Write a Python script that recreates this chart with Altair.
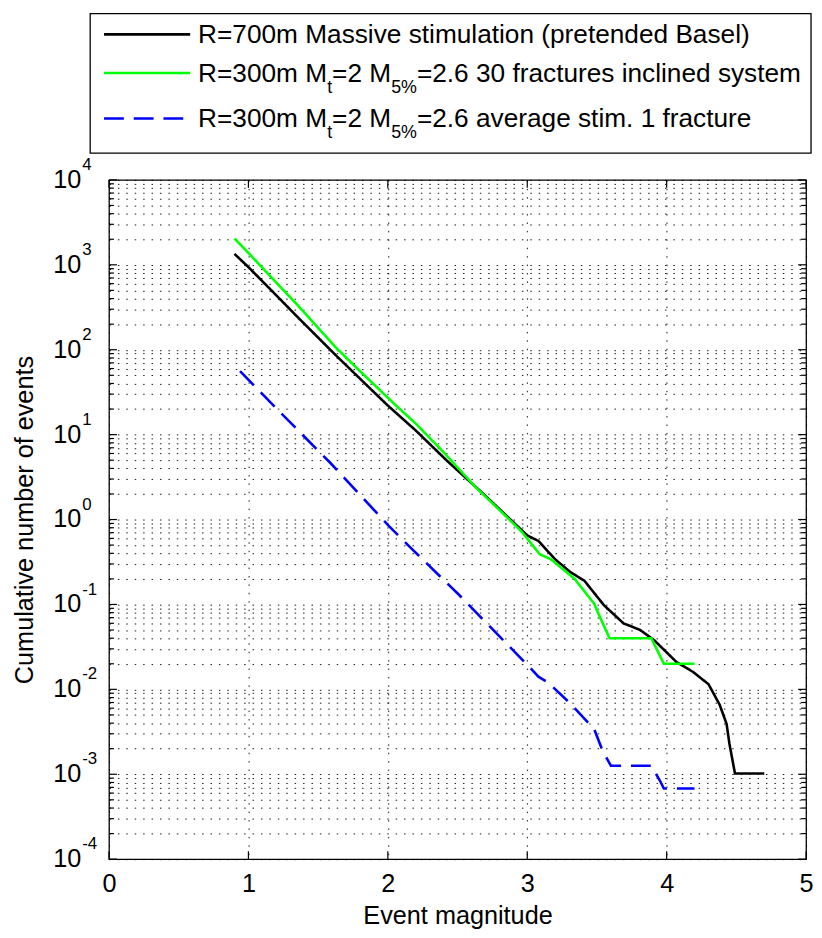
import altair as alt
import pandas as pd

# ---------------- data ----------------
series_names = ["massive", "inclined", "average"]
series_colors = ["#000000", "#00ff00", "#0000ff"]

black_m = [0.90, 1.00, 1.20, 1.35, 1.63, 2.00, 2.20, 2.42, 2.68, 3.00, 3.08, 3.20, 3.31,
           3.41, 3.55, 3.69, 3.81, 3.91, 4.07, 4.19, 4.30, 4.38, 4.43, 4.45, 4.49, 4.70]
black_n = [1345, 940, 437, 245, 85, 22, 11.2, 5.0, 2.04, 0.65, 0.56, 0.34, 0.24,
           0.19, 0.098, 0.060, 0.050, 0.038, 0.021, 0.016, 0.0115, 0.0066, 0.0039, 0.0023, 0.00102, 0.00102]

green_m = [0.90, 1.00, 1.20, 1.35, 1.63, 1.80, 2.06, 2.20, 2.40, 2.63, 2.80, 2.96, 3.09,
           3.17, 3.34, 3.48, 3.50, 3.59, 3.89, 3.98, 4.20]
green_n = [2040, 1380, 617, 339, 105, 56, 21.9, 13.5, 6.2, 2.4, 1.3, 0.72, 0.39,
           0.34, 0.20, 0.102, 0.085, 0.040, 0.040, 0.020, 0.020]

blue_m = [0.94, 1.20, 1.59, 2.01, 2.15, 2.51, 3.00, 3.08, 3.15, 3.31, 3.48, 3.54, 3.60,
          3.89, 3.95, 3.98, 4.20]
blue_n = [56, 20.4, 4.6, 0.83, 0.49, 0.13, 0.0195, 0.0141, 0.012, 0.0068, 0.0034, 0.0019, 0.00126,
          0.00126, 0.00085, 0.00068, 0.00068]

x_ticks = [0, 1, 2, 3, 4, 5]
y_exponents = [-4, -3, -2, -1, 0, 1, 2, 3, 4]
y_mantissas = [1, 2, 3, 4, 5, 6, 7, 8, 9]

x_title = "Event magnitude"
y_title = "Cumulative number of events"

# legend rows: list of (text, is_subscript)
legend_rows = [
    [("R=700m Massive stimulation (pretended Basel)", False)],
    [("R=300m M", False), ("t", True), ("=2 M", False), ("5%", True),
     ("=2.6 30 fractures inclined system", False)],
    [("R=300m M", False), ("t", True), ("=2 M", False), ("5%", True),
     ("=2.6 average stim. 1 fracture", False)],
]

# ---------------- layout / style ----------------
FONT = "Liberation Sans"
W, H = 704, 686
FS = 25.5
LEG_FS = 26.5
SUB_FS = 18

lines_df = pd.concat([
    pd.DataFrame({"series": "massive", "M": black_m, "N": black_n, "o": range(len(black_m))}),
    pd.DataFrame({"series": "inclined", "M": green_m, "N": green_n, "o": range(len(green_m))}),
    pd.DataFrame({"series": "average", "M": blue_m, "N": blue_n, "o": range(len(blue_m))}),
])

grid_vals = []
major_vals = []
minor_vals = []
for e in y_exponents:
    for m in y_mantissas:
        if e == 4 and m > 1:
            continue
        v = m * 10.0 ** e
        grid_vals.append(v)
        (major_vals if m == 1 else minor_vals).append(v)

x_scale = alt.Scale(domain=[0, 5], nice=False, zero=False)
y_scale = alt.Scale(type="log", domain=[1e-4, 1e4], nice=False)

x_axis = alt.Axis(values=x_ticks, grid=True, gridDash=[1.5, 7], gridColor="#000000",
                  gridOpacity=0.9, gridWidth=1, ticks=False, domain=False,
                  labelFontSize=FS, labelFont=FONT, labelColor="#000", labelPadding=13,
                  labelFlush=False,
                  title=x_title, titleFontSize=FS, titleFont=FONT, titleFontWeight="normal",
                  titleColor="#000", titlePadding=6)
y_axis = alt.Axis(values=grid_vals, grid=True, gridDash=[1.5, 7], gridColor="#000000",
                  gridOpacity=0.9, gridWidth=1, ticks=False, domain=False, labels=False,
                  title=y_title, titleFontSize=FS, titleFont=FONT, titleFontWeight="normal",
                  titleColor="#000", titlePadding=72)

lines = alt.Chart(lines_df).mark_line(strokeWidth=2.6, clip=True).encode(
    x=alt.X("M:Q", scale=x_scale, axis=x_axis),
    y=alt.Y("N:Q", scale=y_scale, axis=y_axis),
    color=alt.Color("series:N", scale=alt.Scale(domain=series_names, range=series_colors), legend=None),
    strokeDash=alt.StrokeDash("series:N",
                              scale=alt.Scale(domain=series_names, range=[[1, 0], [1, 0], [20, 10]]),
                              legend=None),
    order="o:Q",
)

def yrule(vals, x0, x1):
    return alt.Chart(pd.DataFrame({"v": vals})).mark_rule(color="#000", strokeWidth=1.2).encode(
        y=alt.Y("v:Q", scale=y_scale, axis=y_axis), x=alt.value(x0), x2=alt.value(x1))

def xrule(vals, y0, y1):
    return alt.Chart(pd.DataFrame({"v": vals})).mark_rule(color="#000", strokeWidth=1.2).encode(
        x=alt.X("v:Q", scale=x_scale, axis=x_axis), y=alt.value(y0), y2=alt.value(y1))

ticks = [
    yrule(major_vals, 0, 8), yrule(minor_vals, 0, 5),
    yrule(major_vals, W, W - 8), yrule(minor_vals, W, W - 5),
    xrule(x_ticks, H, H - 8), xrule(x_ticks, 0, 8),
]

ylab_df = pd.DataFrame({"v": [10.0 ** e for e in y_exponents], "exp": [str(e) for e in y_exponents]})
ylab_base = alt.Chart(ylab_df).mark_text(align="right", baseline="middle", fontSize=FS, font=FONT,
                                         color="#000").encode(
    y=alt.Y("v:Q", scale=y_scale, axis=y_axis), x=alt.value(-28), text=alt.value("10"))
ylab_exp = alt.Chart(ylab_df).mark_text(align="left", baseline="middle", fontSize=17, font=FONT,
                                        color="#000", dy=-15).encode(
    y=alt.Y("v:Q", scale=y_scale, axis=y_axis), x=alt.value(-27), text="exp:N")

# ---------------- legend (drawn manually for sub-scripts) ----------------
CW = {" ": 278, "!": 278, "%": 889, "(": 333, ")": 333, ".": 278, "=": 584, "-": 333,
      "A": 667, "B": 667, "M": 833, "R": 722,
      "a": 556, "b": 556, "c": 500, "d": 556, "e": 556, "f": 278, "g": 556, "h": 556,
      "i": 222, "k": 500, "l": 222, "m": 833, "n": 556, "o": 556, "p": 556, "r": 333,
      "s": 500, "t": 278, "u": 556, "v": 500, "x": 500, "y": 500}

def text_w(s, fs):
    return sum(CW.get(c, 556) for c in s) / 1000.0 * fs

one = pd.DataFrame({"a": [0]})
LX0, LX1 = -19, 709
LY0, LY1 = -168, -27
leg_layers = [
    alt.Chart(one).mark_rect(fill="white", stroke="#000", strokeWidth=1.3).encode(
        x=alt.value(LX0), x2=alt.value(LX1), y=alt.value(LY0), y2=alt.value(LY1))
]
row_base = [-138, -99, -53]
sw_dash = [[1, 0], [1, 0], [20, 10]]
for i, row in enumerate(legend_rows):
    yb = row_base[i]
    leg_layers.append(
        alt.Chart(one).mark_rule(color=series_colors[i], strokeWidth=2.6, strokeDash=sw_dash[i]).encode(
            x=alt.value(-5), x2=alt.value(82), y=alt.value(yb - 9)))
    x = 90
    for txt, sub in row:
        fs = SUB_FS if sub else LEG_FS
        leg_layers.append(
            alt.Chart(one).mark_text(align="left", baseline="alphabetic", fontSize=fs, font=FONT,
                                     color="#000", text=txt).encode(
                x=alt.value(x), y=alt.value(yb + (11 if sub else 0))))
        x += text_w(txt, fs)

chart = alt.layer(lines, *ticks, ylab_base, ylab_exp, *leg_layers).properties(
    width=W, height=H,
    autosize=alt.AutoSizeParams(type="none"),
    padding={"left": 102, "top": 169, "right": 8, "bottom": 74},
    background="white",
).configure_view(stroke="#000", strokeWidth=1.3)

chart.save("out.html", embed_options={"renderer": "svg", "actions": False})
